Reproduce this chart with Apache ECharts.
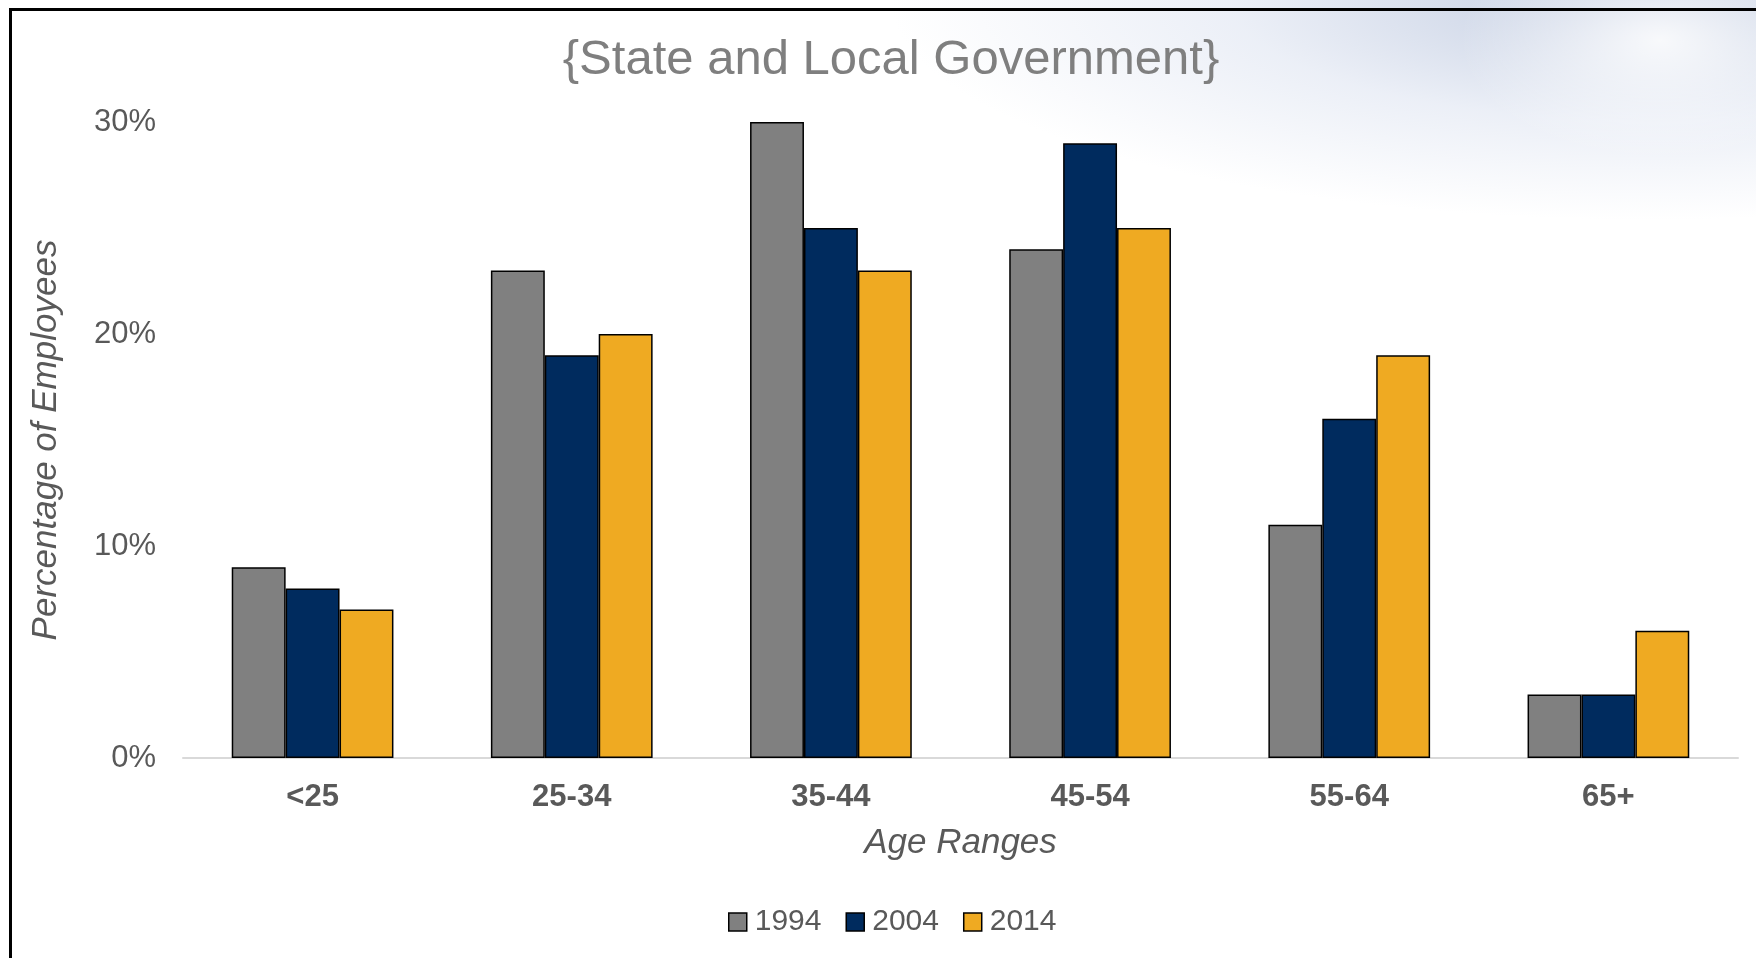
<!DOCTYPE html>
<html>
<head>
<meta charset="utf-8">
<script src="https://cdn.jsdelivr.net/npm/echarts@6/dist/echarts.min.js"></script>
<style>
  html, body { margin: 0; padding: 0; background: #fff; }
  #wrap {
    position: relative; width: 1756px; height: 958px; overflow: hidden;
    background:
      radial-gradient(ellipse 200px 120px at 1660px 40px, rgba(255,255,255,0.85) 0%, rgba(255,255,255,0) 100%),
      radial-gradient(ellipse 760px 220px at 1650px 0px, rgba(184,196,220,0.85) 0%, rgba(212,220,237,0.45) 55%, rgba(255,255,255,0) 100%),
      #fff;
  }
  #frame {
    position: absolute; left: 9px; top: 8px; right: -5px; bottom: -5px;
    border-left: 3px solid #000; border-top: 3px solid #000;
  }
  #chart { position: absolute; left: 0; top: 0; width: 1756px; height: 958px; }
</style>
</head>
<body>
<div id="wrap">
  <div id="frame"></div>
  <div id="chart"></div>
</div>
<script>
var categories = ['<25', '25-34', '35-44', '45-54', '55-64', '65+']
var years = ['1994', '2004', '2014']
var values1994 = [9, 23, 30, 24, 11, 3]
var values2004 = [8, 19, 25, 29, 16, 3]
var values2014 = [7, 20, 23, 25, 19, 6]
var colors = ['#808080', '#002B5E', '#EFAA22']

var chart = echarts.init(document.getElementById('chart'))
var seriesData = [values1994, values2004, values2014]
var series = []
for (var i = 0; i < years.length; i++) {
  series.push({
    name: years[i],
    type: 'bar',
    data: seriesData[i],
    barWidth: '20.8%',
    barGap: '0%',
    barCategoryGap: '37.5%',
    itemStyle: {
      color: colors[i],
      borderColor: '#000',
      borderWidth: 1.5
    }
  })
}

var option = {
  animation: false,
  textStyle: { fontFamily: '"Liberation Sans", Arial, sans-serif' },
  title: {
    text: '{State and Local Government}',
    left: 886,
    textAlign: 'center',
    top: 31,
    textStyle: {
      color: '#7F7F7F',
      fontSize: 49,
      fontWeight: 'normal',
      fontFamily: '"Liberation Sans", Arial, sans-serif'
    }
  },
  legend: {
    data: years,
    left: 723,
    top: 902,
    icon: 'rect',
    itemWidth: 18,
    itemHeight: 18,
    itemGap: 24,
    itemStyle: { borderColor: '#000', borderWidth: 1.5 },
    textStyle: { color: '#595959', fontSize: 30, padding: [0, 0, 0, 3] }
  },
  grid: {
    left: 183,
    right: 18,
    top: 122,
    bottom: 200,
    containLabel: false
  },
  xAxis: {
    type: 'category',
    data: categories,
    name: 'Age Ranges',
    nameLocation: 'middle',
    nameGap: 68,
    nameTextStyle: { color: '#595959', fontSize: 35, fontStyle: 'italic' },
    axisLine: { lineStyle: { color: '#D9D9D9', width: 2 } },
    axisTick: { show: false },
    axisLabel: { color: '#595959', fontSize: 31, fontWeight: 'bold', margin: 24 }
  },
  yAxis: {
    type: 'value',
    min: 0,
    max: 30,
    interval: 10,
    name: 'Percentage of Employees',
    nameLocation: 'middle',
    nameGap: 119,
    nameTextStyle: { color: '#595959', fontSize: 35, fontStyle: 'italic' },
    axisLine: { show: false },
    axisTick: { show: false },
    splitLine: { show: false },
    axisLabel: {
      color: '#595959',
      fontSize: 31,
      margin: 27,
      formatter: '{value}%'
    }
  },
  series: series
}
chart.setOption(option)
</script>
</body>
</html>
